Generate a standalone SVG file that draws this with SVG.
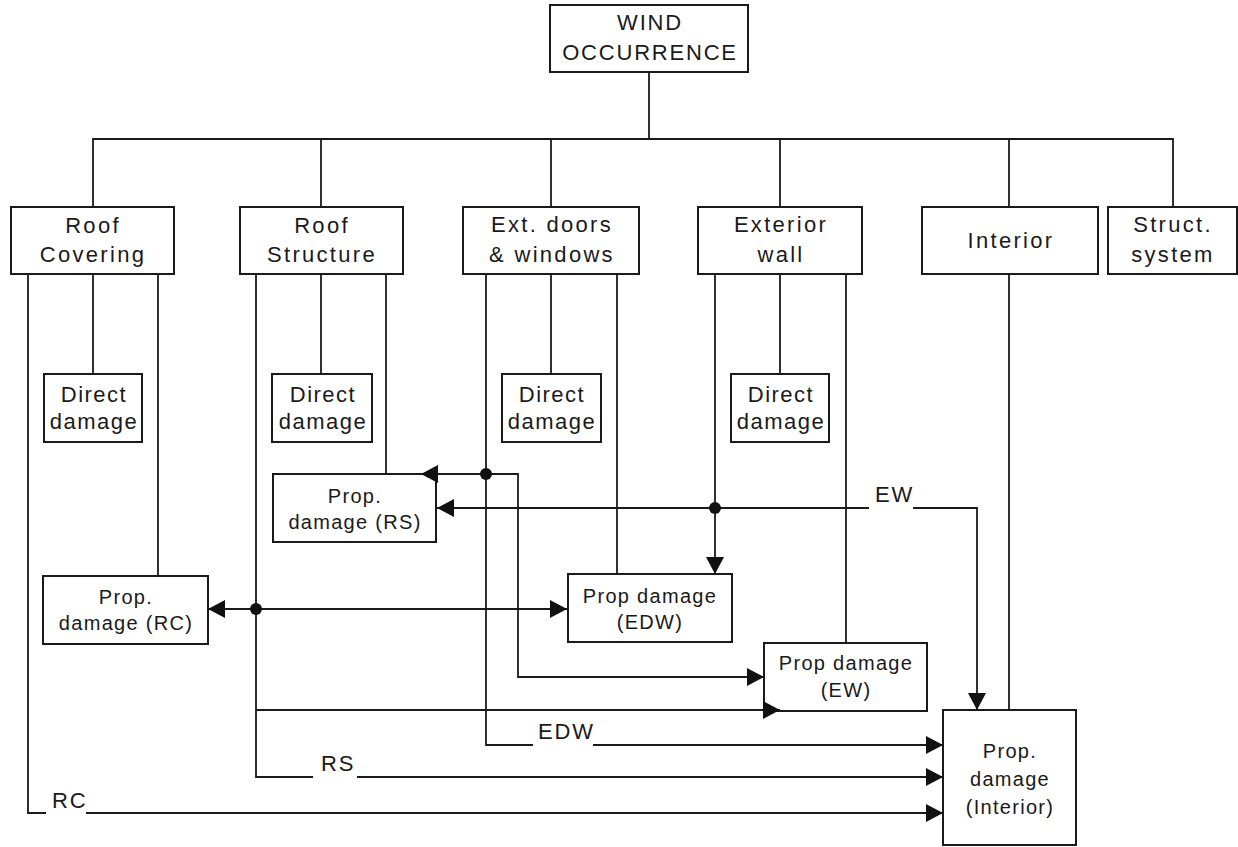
<svg xmlns="http://www.w3.org/2000/svg" width="1238" height="847" viewBox="0 0 1238 847">
<style>
rect.box{fill:#fff;stroke:#1a1a1a;stroke-width:2}
.t{font-family:"Liberation Sans",Arial,sans-serif;fill:#1a1a1a;text-anchor:middle}
.big{font-size:22px;letter-spacing:2.3px}
.hd{font-size:22px;letter-spacing:1.8px}
.dd{font-size:22px;letter-spacing:1.5px}
.pd{font-size:20px;letter-spacing:1.3px}
.lbl{font-family:"Liberation Sans",Arial,sans-serif;fill:#1a1a1a;font-size:22px;letter-spacing:1.8px}
#connectors path{fill:none;stroke:#1a1a1a;stroke-width:1.8}
</style>
<defs>
<marker id="ah" markerUnits="userSpaceOnUse" markerWidth="17" markerHeight="18" refX="17" refY="9" orient="auto-start-reverse">
<path d="M0,0 L17,9 L0,18 z" fill="#111"/>
</marker>
</defs>
<rect width="1238" height="847" fill="#fff"/>
<g id="wind">
<rect class="box" x="550" y="5" width="198" height="67"/>
<text class="t hd" x="650" y="30">WIND</text>
<text class="t hd" x="650" y="60">OCCURRENCE</text>
</g>
<g id="roof-covering">
<rect class="box" x="11" y="207" width="163" height="67"/>
<text class="t big" x="93" y="233">Roof</text>
<text class="t big" x="93" y="262">Covering</text>
</g>
<g id="roof-structure">
<rect class="box" x="240" y="207" width="163" height="67"/>
<text class="t big" x="322" y="233">Roof</text>
<text class="t big" x="322" y="262">Structure</text>
</g>
<g id="ext-doors">
<rect class="box" x="463" y="207" width="176" height="67"/>
<text class="t big" x="552" y="232">Ext. doors</text>
<text class="t big" x="552" y="262">&amp; windows</text>
</g>
<g id="exterior-wall">
<rect class="box" x="698" y="207" width="164" height="67"/>
<text class="t big" x="781" y="232">Exterior</text>
<text class="t big" x="781" y="262">wall</text>
</g>
<g id="interior">
<rect class="box" x="922" y="207" width="176" height="67"/>
<text class="t big" x="1011" y="248">Interior</text>
</g>
<g id="struct-system">
<rect class="box" x="1108" y="207" width="129" height="67"/>
<text class="t big" x="1173" y="232">Struct.</text>
<text class="t big" x="1173" y="262">system</text>
</g>
<g id="direct-rc">
<rect class="box" x="44" y="374" width="98" height="68"/>
<text class="t dd" x="94" y="402">Direct</text>
<text class="t dd" x="94" y="429">damage</text>
</g>
<g id="direct-rs">
<rect class="box" x="272" y="374" width="100" height="68"/>
<text class="t dd" x="323" y="402">Direct</text>
<text class="t dd" x="323" y="429">damage</text>
</g>
<g id="direct-edw">
<rect class="box" x="502" y="374" width="99" height="68"/>
<text class="t dd" x="552" y="402">Direct</text>
<text class="t dd" x="552" y="429">damage</text>
</g>
<g id="direct-ew">
<rect class="box" x="731" y="374" width="98" height="68"/>
<text class="t dd" x="781" y="402">Direct</text>
<text class="t dd" x="781" y="429">damage</text>
</g>
<g id="prop-rs">
<rect class="box" x="273" y="474" width="163" height="68"/>
<text class="t pd" x="355" y="503">Prop.</text>
<text class="t pd" x="355" y="529">damage (RS)</text>
</g>
<g id="prop-rc">
<rect class="box" x="43" y="576" width="165" height="68"/>
<text class="t pd" x="126" y="604">Prop.</text>
<text class="t pd" x="126" y="630">damage (RC)</text>
</g>
<g id="prop-edw">
<rect class="box" x="568" y="574" width="164" height="68"/>
<text class="t pd" x="650" y="603">Prop damage</text>
<text class="t pd" x="650" y="629">(EDW)</text>
</g>
<g id="prop-ew">
<rect class="box" x="764" y="643" width="163" height="68"/>
<text class="t pd" x="846" y="670">Prop damage</text>
<text class="t pd" x="846" y="697">(EW)</text>
</g>
<g id="prop-interior">
<rect class="box" x="943" y="710" width="133" height="135"/>
<text class="t pd" x="1010" y="758">Prop.</text>
<text class="t pd" x="1010" y="786">damage</text>
<text class="t pd" x="1010" y="814">(Interior)</text>
</g>
<g id="connectors">
<path d="M649,72 V139"/>
<path d="M93,207 V139 H1173 V207"/>
<path d="M321,139 V207"/>
<path d="M551,139 V207"/>
<path d="M780,139 V207"/>
<path d="M1009,139 V207"/>
<path d="M93,274 V374"/>
<path d="M158,274 V576"/>
<path d="M28,274 V813 H46"/>
<path d="M86,813 H943" marker-end="url(#ah)"/>
<path d="M321,274 V374"/>
<path d="M386,274 V474"/>
<path d="M256,274 V777 H313"/>
<path d="M357,777 H943" marker-end="url(#ah)"/>
<path d="M256,710 H780" marker-end="url(#ah)"/>
<path d="M208,609 H567" marker-start="url(#ah)" marker-end="url(#ah)"/>
<path d="M551,274 V374"/>
<path d="M617,274 V574"/>
<path d="M486,274 V745 H533"/>
<path d="M593,745 H943" marker-end="url(#ah)"/>
<path d="M486,474 H421" marker-end="url(#ah)"/>
<path d="M486,474 H518 V677 H764" marker-end="url(#ah)"/>
<path d="M780,274 V374"/>
<path d="M715,274 V574" marker-end="url(#ah)"/>
<path d="M846,274 V643"/>
<path d="M869,508 H437" marker-end="url(#ah)"/>
<path d="M913,508 H977 V710" marker-end="url(#ah)"/>
<path d="M1009,274 V710"/>
<circle cx="256" cy="609" r="6" fill="#111"/>
<circle cx="486" cy="474" r="6" fill="#111"/>
<circle cx="715" cy="508" r="6" fill="#111"/>
<text class="lbl" x="52" y="808">RC</text>
<text class="lbl" x="321" y="771">RS</text>
<text class="lbl" x="538" y="739">EDW</text>
<text class="lbl" x="875" y="502">EW</text>
</g>
</svg>
